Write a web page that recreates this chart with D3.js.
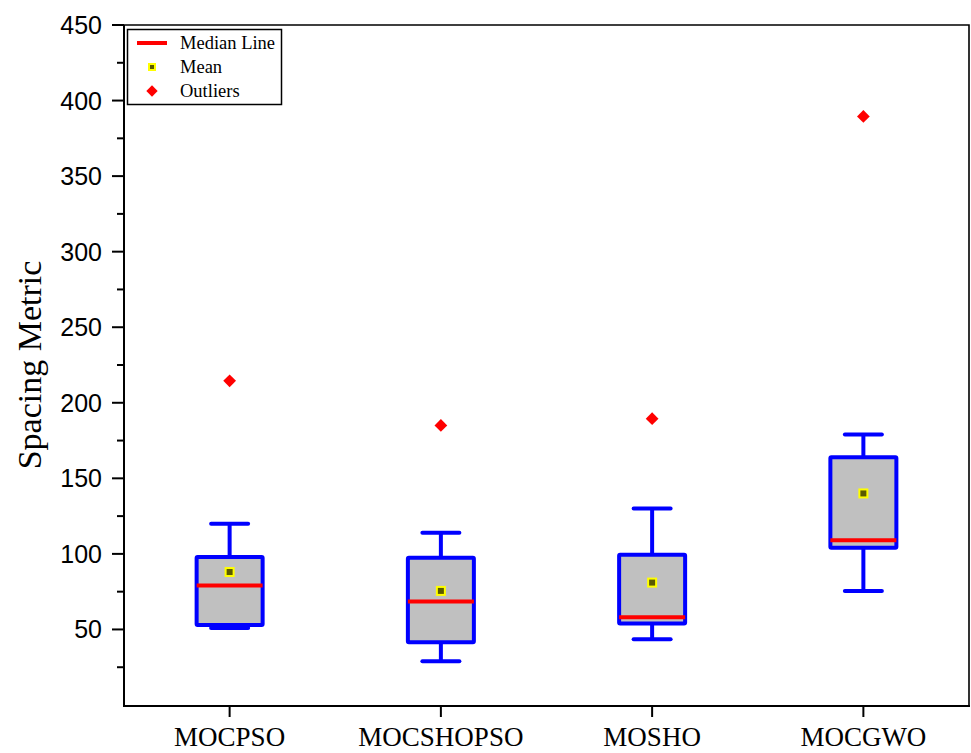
<!DOCTYPE html>
<html><head><meta charset="utf-8">
<script src="https://cdn.jsdelivr.net/npm/d3@7"></script>
<style>html,body{margin:0;padding:0;background:#fff;}</style>
</head><body>
<svg id="chart" width="971" height="753"></svg>
<script>
const categories = ["MOCPSO","MOCSHOPSO","MOSHO","MOCGWO"];
const q1Values      = [53, 41.5, 54, 104];
const medianValues  = [79, 68.5, 58, 109];
const q3Values      = [98, 97.5, 99.5, 164];
const meanValues    = [88, 75.5, 81, 140];
const whiskerLow    = [51, 29, 43.5, 75.5];
const whiskerHigh   = [120, 114, 130, 179];
const outlierValues = [214.5, 185, 189.5, 389.5];
const majorTicks = [50,100,150,200,250,300,350,400,450];
const minorTicks = [25,75,125,175,225,275,325,375,425];
const legendItems = ["Median Line","Mean","Outliers"];

const svg = d3.select("#chart");
const m = {left:124, right:969, top:25, bottom:705};
const x = d3.scalePoint().domain(categories).range([m.left, m.right]).padding(0.5);
const y = d3.scaleLinear().domain([0,450]).range([m.bottom, m.top]);

const boxW = 66, capW = 37;
const data = categories.map((c,i)=>({c, q1:q1Values[i], med:medianValues[i], q3:q3Values[i], mean:meanValues[i], lo:whiskerLow[i], hi:whiskerHigh[i], out:outlierValues[i]}));

// frame top/right
svg.append("path").attr("d",`M${m.left},${m.top}H${m.right}V${m.bottom+1}`)
  .attr("fill","none").attr("stroke","#000").attr("stroke-width",1.6);

const g = svg.append("g");
data.forEach(d=>{
  const cx = x(d.c);
  g.append("line").attr("x1",cx).attr("x2",cx).attr("y1",y(d.q3)).attr("y2",y(d.hi)).attr("stroke","#0000ff").attr("stroke-width",4);
  g.append("line").attr("x1",cx).attr("x2",cx).attr("y1",y(d.q1)).attr("y2",y(d.lo)).attr("stroke","#0000ff").attr("stroke-width",4);
  g.append("line").attr("x1",cx-capW/2).attr("x2",cx+capW/2).attr("y1",y(d.hi)).attr("y2",y(d.hi)).attr("stroke","#0000ff").attr("stroke-width",4).attr("stroke-linecap","round");
  g.append("line").attr("x1",cx-capW/2).attr("x2",cx+capW/2).attr("y1",y(d.lo)).attr("y2",y(d.lo)).attr("stroke","#0000ff").attr("stroke-width",4).attr("stroke-linecap","round");
  g.append("rect").attr("x",cx-boxW/2).attr("width",boxW).attr("y",y(d.q3)).attr("height",y(d.q1)-y(d.q3))
    .attr("fill","#c0c0c0").attr("stroke","#0000ff").attr("stroke-width",4).attr("rx",1);
  g.append("line").attr("x1",cx-boxW/2).attr("x2",cx+boxW/2).attr("y1",y(d.med)).attr("y2",y(d.med)).attr("stroke","#ff0000").attr("stroke-width",4);
  g.append("rect").attr("x",cx-4).attr("y",y(d.mean)-4).attr("width",8).attr("height",8)
    .attr("fill","#5a5a00").attr("stroke","#ffff00").attr("stroke-width",2);
  g.append("path").attr("transform",`translate(${cx},${y(d.out)}) rotate(45)`).attr("d","M-4.5,-4.5H4.5V4.5H-4.5Z").attr("fill","#ff0000");
});

// y axis
const ya = svg.append("g").attr("transform",`translate(${m.left},0)`);
ya.append("line").attr("x1",0).attr("x2",0).attr("y1",m.top).attr("y2",m.bottom+1).attr("stroke","#000").attr("stroke-width",2);
ya.selectAll(".maj").data(majorTicks).join("line").attr("x1",-12).attr("x2",0).attr("y1",d=>y(d)).attr("y2",d=>y(d)).attr("stroke","#000").attr("stroke-width",2);
ya.selectAll(".min").data(minorTicks).join("line").attr("x1",-7).attr("x2",0).attr("y1",d=>y(d)).attr("y2",d=>y(d)).attr("stroke","#000").attr("stroke-width",2);
ya.selectAll(".lab").data(majorTicks).join("text").attr("x",-22).attr("y",d=>y(d)).attr("dy","0.36em")
  .attr("text-anchor","end").attr("font-family","Liberation Sans, Arial, sans-serif").attr("font-size",25).text(d=>d);

// x axis
const xa = svg.append("g");
xa.append("line").attr("x1",m.left-1).attr("x2",m.right+1).attr("y1",m.bottom+1).attr("y2",m.bottom+1).attr("stroke","#000").attr("stroke-width",2);
xa.selectAll(".t").data(categories).join("line").attr("x1",d=>x(d)).attr("x2",d=>x(d)).attr("y1",m.bottom+1).attr("y2",m.bottom+12).attr("stroke","#000").attr("stroke-width",2);
xa.selectAll(".l").data(categories).join("text").attr("x",d=>x(d)).attr("y",746).attr("text-anchor","middle")
  .attr("font-family","Liberation Serif, Times New Roman, serif").attr("font-size",27).text(d=>d);

// y title
svg.append("text").attr("transform","translate(41,365) rotate(-90)").attr("text-anchor","middle")
  .attr("font-family","Liberation Serif, Times New Roman, serif").attr("font-size",34).text("Spacing Metric");

// legend
const lg = svg.append("g");
lg.append("rect").attr("x",127.5).attr("y",29.5).attr("width",154).attr("height",75).attr("fill","#fff").attr("stroke","#000").attr("stroke-width",1.5);
const ly = [43,67,91];
lg.append("line").attr("x1",137).attr("x2",167).attr("y1",ly[0]).attr("y2",ly[0]).attr("stroke","#ff0000").attr("stroke-width",4);
lg.append("rect").attr("x",149).attr("y",ly[1]-3).attr("width",6).attr("height",6).attr("fill","#5a5a00").attr("stroke","#ffff00").attr("stroke-width",2);
lg.append("path").attr("transform",`translate(152,${ly[2]}) rotate(45)`).attr("d","M-4,-4H4V4H-4Z").attr("fill","#ff0000");
lg.selectAll(".lt").data(legendItems).join("text").attr("x",180).attr("y",(d,i)=>ly[i]).attr("dy","0.33em")
  .attr("font-family","Liberation Serif, Times New Roman, serif").attr("font-size",18.5).text(d=>d);
</script>
</body></html>
